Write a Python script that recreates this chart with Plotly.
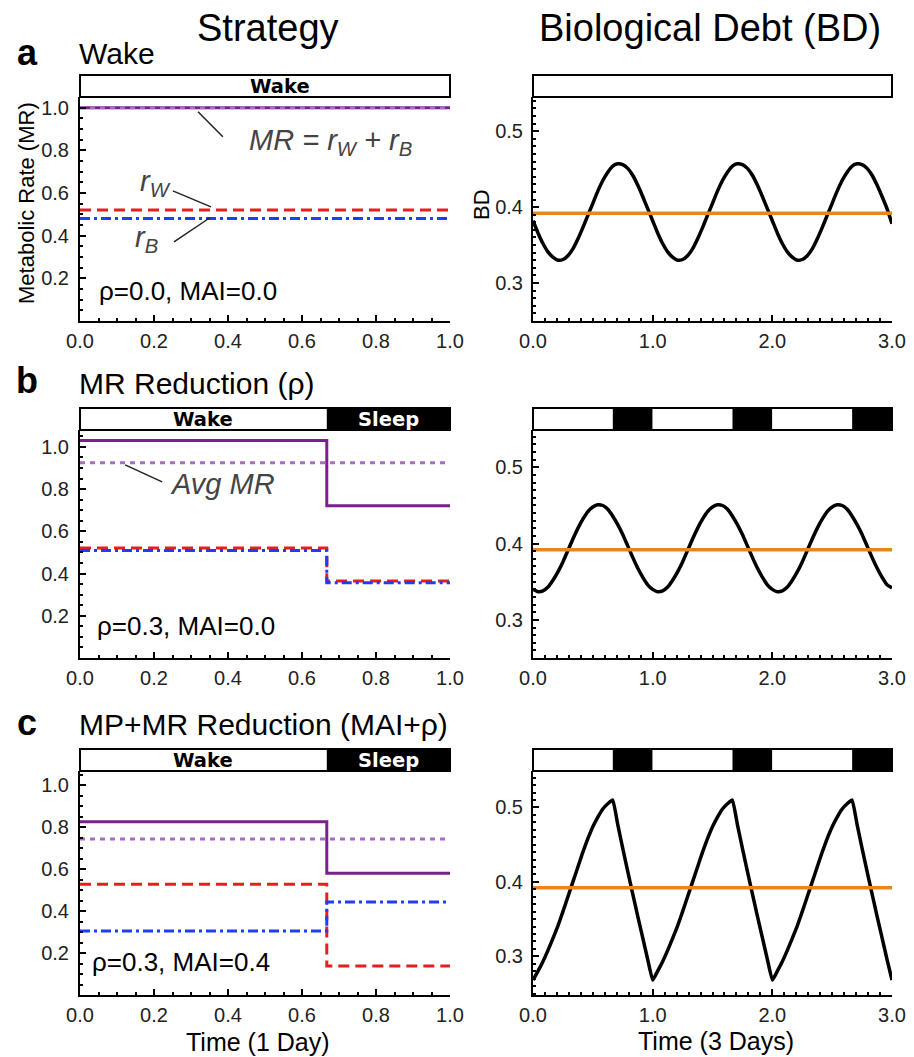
import plotly.graph_objects as go

FONT = "Liberation Sans, Arial, Helvetica, sans-serif"
BARFONT = "DejaVu Sans, Liberation Sans, sans-serif"

# ---------------- data ----------------
day_t = [0.0, 0.667, 1.0]          # time within one day (wake ends at 2/3)

mr_a = [1.0, 1.0, 1.0]
avg_a = [1.0, 1.0, 1.0]
rw_a = [0.52, 0.52, 0.52]
rb_a = [0.48, 0.48, 0.48]

mr_b = [1.03, 0.721, 0.721]
avg_b = [0.925, 0.925, 0.925]
rw_b = [0.521, 0.365, 0.365]
rb_b = [0.509, 0.356, 0.356]

mr_c = [0.825, 0.580, 0.580]
avg_c = [0.743, 0.743, 0.743]
rw_c = [0.527, 0.138, 0.138]
rb_c = [0.305, 0.443, 0.443]

hours = list(range(73))  # hourly samples over 3 days

bd_a = [0.382, 0.366, 0.352, 0.341, 0.334, 0.330, 0.331, 0.336, 0.345, 0.358, 0.373, 0.389,
        0.405, 0.421, 0.435, 0.446, 0.454, 0.457, 0.456, 0.451, 0.442, 0.429, 0.414, 0.398,
        0.382, 0.366, 0.352, 0.341, 0.334, 0.330, 0.331, 0.336, 0.345, 0.358, 0.373, 0.389,
        0.405, 0.421, 0.435, 0.446, 0.454, 0.457, 0.456, 0.451, 0.442, 0.429, 0.414, 0.398,
        0.382, 0.366, 0.352, 0.341, 0.334, 0.330, 0.331, 0.336, 0.345, 0.358, 0.373, 0.389,
        0.405, 0.421, 0.435, 0.446, 0.454, 0.457, 0.456, 0.451, 0.442, 0.429, 0.414, 0.398,
        0.378]

bd_b = [0.340, 0.337, 0.338, 0.343, 0.352, 0.363, 0.376, 0.391, 0.406, 0.420, 0.432, 0.442,
        0.448, 0.451, 0.450, 0.445, 0.436, 0.425, 0.412, 0.397, 0.382, 0.368, 0.356, 0.346,
        0.340, 0.337, 0.338, 0.343, 0.352, 0.363, 0.376, 0.391, 0.406, 0.420, 0.432, 0.442,
        0.448, 0.451, 0.450, 0.445, 0.436, 0.425, 0.412, 0.397, 0.382, 0.368, 0.356, 0.346,
        0.340, 0.337, 0.338, 0.343, 0.352, 0.363, 0.376, 0.391, 0.406, 0.420, 0.432, 0.442,
        0.448, 0.451, 0.450, 0.445, 0.436, 0.425, 0.412, 0.397, 0.382, 0.368, 0.356, 0.346,
        0.342]

bd_c = [0.268, 0.280, 0.293, 0.308, 0.324, 0.341, 0.360, 0.380, 0.400, 0.420, 0.440, 0.458,
        0.474, 0.487, 0.498, 0.505, 0.510, 0.477, 0.445, 0.414, 0.384, 0.354, 0.325, 0.296,
        0.268, 0.280, 0.293, 0.308, 0.324, 0.341, 0.360, 0.380, 0.400, 0.420, 0.440, 0.458,
        0.474, 0.487, 0.498, 0.505, 0.510, 0.477, 0.445, 0.414, 0.384, 0.354, 0.325, 0.296,
        0.268, 0.280, 0.293, 0.308, 0.324, 0.341, 0.360, 0.380, 0.400, 0.420, 0.440, 0.458,
        0.474, 0.487, 0.498, 0.505, 0.510, 0.477, 0.445, 0.414, 0.384, 0.354, 0.325, 0.296,
        0.268]

bd_avg_t = [0.0, 3.0]
bd_avg = [0.392, 0.392]

# wake / sleep schedules for the status bars
sched_left_a = [("Wake", 0.0, 1.0)]
sched_left_bc = [("Wake", 0.0, 0.667), ("Sleep", 0.667, 1.0)]
sched_right_a = [("Wake", 0.0, 3.0)]
sched_right_bc = [("Wake", 0.0, 0.667), ("Sleep", 0.667, 1.0),
                  ("Wake", 1.0, 1.667), ("Sleep", 1.667, 2.0),
                  ("Wake", 2.0, 2.667), ("Sleep", 2.667, 3.0)]

letters = ["a", "b", "c"]
titles = ["Wake", "MR Reduction (ρ)", "MP+MR Reduction (MAI+ρ)"]
params = ["ρ=0.0, MAI=0.0", "ρ=0.3, MAI=0.0", "ρ=0.3, MAI=0.4"]

left_xticks = [0.0, 0.2, 0.4, 0.6, 0.8, 1.0]
left_yticks = [0.2, 0.4, 0.6, 0.8, 1.0]
right_xticks = [0.0, 1.0, 2.0, 3.0]
right_yticks = [0.3, 0.4, 0.5]

# ---------------- style ----------------
PURPLE = "#7b1f8f"
PURPLE_L = "#a86cc4"
RED = "#e3201e"
BLUE = "#1f3df2"
ORANGE = "#e8861e"
GRAY = "#444444"

W, H = 914, 1057
left_dom = [80 / W, 450 / W]
right_dom = [533 / W, 892 / W]
row_px = [(97, 321), (430, 658), (771, 995)]   # top, bottom of plot area
BAR_PX = 22
left_ranges = [[0, 1.05], [0, 1.08], [0, 1.067]]
right_ranges = [[0.25, 0.545], [0.25, 0.549], [0.248, 0.549]]

fig = go.Figure()
layout = {}
shapes = []
annotations = []

left_data = [(mr_a, avg_a, rw_a, rb_a), (mr_b, avg_b, rw_b, rb_b), (mr_c, avg_c, rw_c, rb_c)]
right_data = [bd_a, bd_b, bd_c]
left_scheds = [sched_left_a, sched_left_bc, sched_left_bc]
right_scheds = [sched_right_a, sched_right_bc, sched_right_bc]

days = [h / 24 for h in hours]


def axis_common():
    return dict(showline=True, linecolor="black", linewidth=2, showgrid=False, zeroline=False,
                automargin=False,
                ticks="inside", ticklen=6, tickwidth=1.5, tickcolor="black",
                tickfont=dict(family=FONT, size=20, color="#222"))


def text(t, x, y, size, xref="paper", yref="paper", color="black", xanchor="center", **kw):
    d = dict(text=t, x=x, y=y, xref=xref, yref=yref, showarrow=False,
             xanchor=xanchor, yanchor="middle",
             font=dict(family=kw.pop("family", FONT), size=size, color=color))
    d.update(kw)
    return d


for r in range(3):
    top, bot = row_px[r]
    ydom = [1 - bot / H, 1 - top / H]
    dom_px = bot - top
    bar_frac = BAR_PX / dom_px
    li, ri = 2 * r + 1, 2 * r + 2
    lx, ly = ("x" if li == 1 else f"x{li}"), ("y" if li == 1 else f"y{li}")
    rx, ry = f"x{ri}", f"y{ri}"
    lxk, lyk = ("xaxis" if li == 1 else f"xaxis{li}"), ("yaxis" if li == 1 else f"yaxis{li}")
    rxk, ryk = f"xaxis{ri}", f"yaxis{ri}"

    ax = axis_common()
    ax.update(domain=left_dom, anchor=ly, range=[0, 1.0], tickvals=left_xticks,
              tickformat=".1f", ticklabelstandoff=1,
              minor=dict(tick0=0, dtick=0.05, ticks="inside", ticklen=3, tickcolor="black"))
    layout[lxk] = ax
    ay = axis_common()
    ay.update(domain=ydom, anchor=lx, range=left_ranges[r], tickvals=left_yticks,
              tickformat=".1f", ticklabelstandoff=5,
              minor=dict(tick0=0, dtick=0.05, ticks="inside", ticklen=3, tickcolor="black"))
    layout[lyk] = ay

    bx = axis_common()
    bx.update(domain=right_dom, anchor=ry, range=[0, 3.0], tickvals=right_xticks,
              tickformat=".1f", ticklabelstandoff=1,
              minor=dict(tick0=0, dtick=0.1, ticks="inside", ticklen=3, tickcolor="black"))
    layout[rxk] = bx
    by = axis_common()
    by.update(domain=ydom, anchor=rx, range=right_ranges[r], tickvals=right_yticks,
              tickformat=".1f", ticklabelstandoff=4,
              minor=dict(tick0=0.25, dtick=0.01, ticks="inside", ticklen=3, tickcolor="black"))
    layout[ryk] = by

    mr, avg, rw, rb = left_data[r]
    fig.add_trace(go.Scatter(x=day_t, y=mr, mode="lines", line=dict(color=PURPLE, width=3, shape="hv"),
                             xaxis=lx, yaxis=ly, showlegend=False))
    fig.add_trace(go.Scatter(x=day_t, y=avg, mode="lines", line=dict(color=PURPLE_L, width=3, dash="5px,5px"),
                             xaxis=lx, yaxis=ly, showlegend=False))
    fig.add_trace(go.Scatter(x=day_t, y=rw, mode="lines", line=dict(color=RED, width=3, dash="11px,6px", shape="hv"),
                             xaxis=lx, yaxis=ly, showlegend=False))
    fig.add_trace(go.Scatter(x=day_t, y=rb, mode="lines",
                             line=dict(color=BLUE, width=3, dash="10px,4px,3px,4px", shape="hv"),
                             xaxis=lx, yaxis=ly, showlegend=False))

    fig.add_trace(go.Scatter(x=days, y=right_data[r], mode="lines",
                             line=dict(color="black", width=3.5, shape="spline",
                                       smoothing=0.6 if r < 2 else 0.35),
                             xaxis=rx, yaxis=ry, showlegend=False))
    fig.add_trace(go.Scatter(x=bd_avg_t, y=bd_avg, mode="lines", line=dict(color=ORANGE, width=3.5),
                             xaxis=rx, yaxis=ry, showlegend=False))

    # status bars
    for sched, xid, yid, xr, lbl in ((left_scheds[r], lx, ly, [0, 1.0], True),
                                     (right_scheds[r], rx, ry, [0, 3.0], False)):
        span = xr[1] - xr[0]
        for state, t0, t1 in sched:
            shapes.append(dict(type="rect", xref=f"{xid} domain", yref=f"{yid} domain",
                               x0=(t0 - xr[0]) / span, x1=(t1 - xr[0]) / span,
                               y0=1.0, y1=1.0 + bar_frac,
                               fillcolor="white" if state == "Wake" else "black",
                               line=dict(width=0)))
            if lbl:
                annotations.append(text(f"<b>{state}</b>",
                                        (t0 + t1) / 2 + (0.04 if len(sched) == 1 else 0),
                                        1.0 + bar_frac / 2, 19.5, xref=xid, yref=f"{yid} domain",
                                        color="black" if state == "Wake" else "white",
                                        family=BARFONT))
        shapes.append(dict(type="rect", xref=f"{xid} domain", yref=f"{yid} domain",
                           x0=0, x1=1, y0=1.0, y1=1.0 + bar_frac,
                           line=dict(color="black", width=2), fillcolor="rgba(0,0,0,0)"))

    # parameter text
    annotations.append(text(params[r], [0.046, 0.04, 0.027][r], [0.141, 0.152, 0.157][r], 26,
                            xref=lx, yref=ly, xanchor="left"))

    # panel letter and title
    ypix = [52, 381, 722][r]
    annotations.append(text(f"<b>{letters[r]}</b>", 27 / W, 1 - ypix / H, 36))
    annotations.append(text(titles[r], 77 / W, 1 - (ypix + 2) / H, 30, xanchor="left"))

# annotation labels in panel a / b
annotations += [
    text("<i>MR = r<sub>W</sub> + r<sub>B</sub></i>", 0.676, 0.84, 29, xref="x", yref="y", color=GRAY),
    text("<i>r<sub>W</sub></i>", 0.203, 0.648, 29, xref="x", yref="y", color=GRAY),
    text("<i>r<sub>B</sub></i>", 0.181, 0.385, 29, xref="x", yref="y", color=GRAY),
    text("<i>Avg MR</i>", 0.384, 0.825, 29, xref="x3", yref="y3", color=GRAY),
]
leaders = [("x", "y", 0.319, 0.981, 0.386, 0.864),
           ("x", "y", 0.251, 0.610, 0.354, 0.535),
           ("x", "y", 0.254, 0.371, 0.351, 0.484),
           ("x3", "y3", 0.122, 0.915, 0.222, 0.834)]
for xr_, yr_, x0, y0, x1, y1 in leaders:
    shapes.append(dict(type="line", xref=xr_, yref=yr_, x0=x0, y0=y0, x1=x1, y1=y1,
                       line=dict(color="#222", width=1.5)))

# headers and axis titles
annotations += [
    text("Strategy", 268 / W, 1 - 28 / H, 38),
    text("Biological Debt (BD)", 710 / W, 1 - 28 / H, 38),
    text("Metabolic Rate (MR)", 27 / W, 1 - 203 / H, 22, textangle=-90),
    text("BD", 481 / W, 1 - 205 / H, 22, textangle=-90),
    text("Time (1 Day)", 258 / W, 1 - 1042 / H, 25),
    text("Time (3 Days)", 716 / W, 1 - 1041 / H, 25),
]

fig.update_layout(width=W, height=H, margin=dict(l=0, r=0, t=0, b=0),
                  plot_bgcolor="white", paper_bgcolor="white",
                  shapes=shapes, annotations=annotations, showlegend=False, **layout)

fig.write_html("out.html", config={"displayModeBar": False},
               post_script="document.body.style.margin='0';document.body.style.padding='0';")
